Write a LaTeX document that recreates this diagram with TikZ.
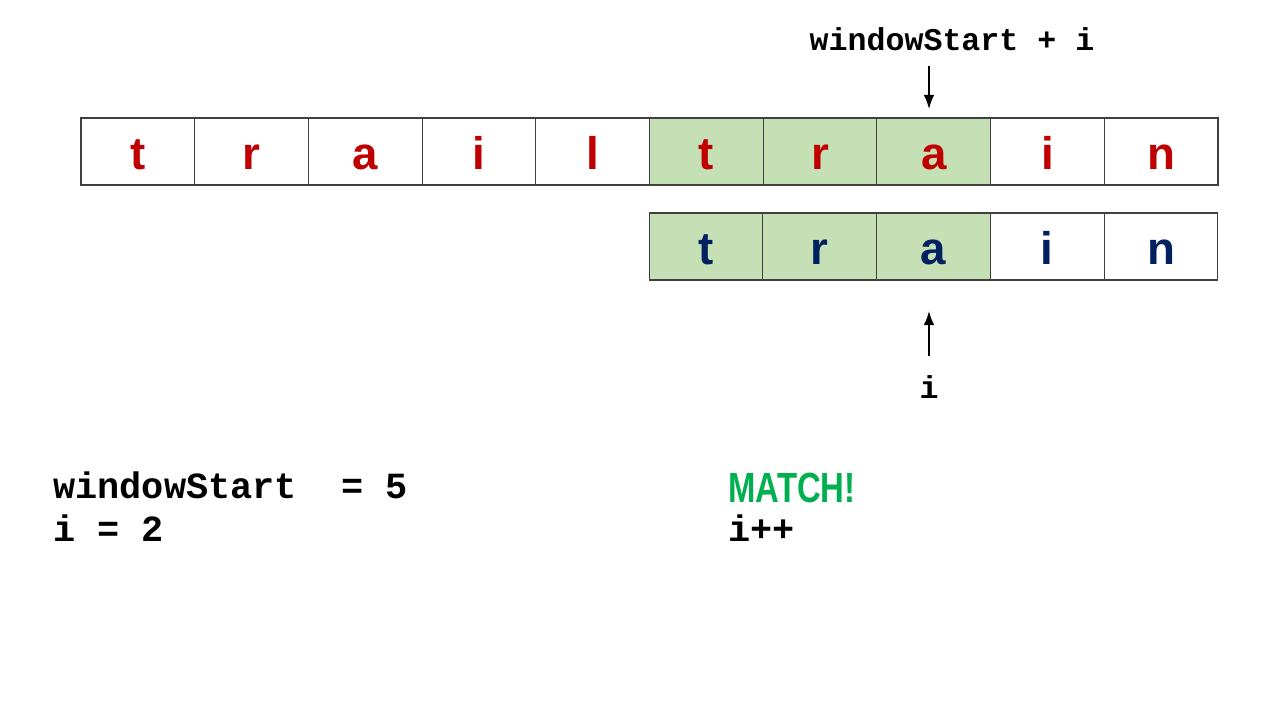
\documentclass[tikz,border=0pt]{standalone}
\usepackage{fontspec}
\setmonofont{Liberation Mono}
\newfontfamily\letterfont{Liberation Sans}
\usetikzlibrary{arrows.meta}

\definecolor{letterred}{HTML}{C00000}
\definecolor{letterblue}{HTML}{002060}
\definecolor{matchgreen}{HTML}{00B050}
\definecolor{windowfill}{HTML}{C5E0B4}

\tikzset{
    cellbox/.style={draw=black!75, line width=0.6pt, minimum width=2.274cm, minimum height=1.34cm,
        inner sep=0pt, text height=21pt, text depth=0pt, font=\letterfont\bfseries\fontsize{26}{26}\selectfont},
    codetext/.style={font=\ttfamily\bfseries\fontsize{21}{25}\selectfont, inner sep=0pt},
    pointer/.style={-{Latex[length=8pt,width=6pt]}, line width=0.9pt}
}

\begin{document}
\begin{tikzpicture}[x=0.02cm,y=-0.02cm]
    \useasboundingbox (0,0) rectangle (1280,720);

    % Text row
    \foreach \ch/\fl [count=\k] in {t/white,r/white,a/white,i/white,l/white,t/windowfill,r/windowfill,a/windowfill,i/white,n/white} {
        \node[cellbox, fill=\fl, text=letterred] (txt\k) at ({81+113.7*(\k-0.5)}, 151.5) {\ch};
    }

    % Pattern row
    \foreach \ch/\fl [count=\k] in {t/windowfill,r/windowfill,a/windowfill,i/white,n/white} {
        \node[cellbox, fill=\fl, text=letterblue] (pat\k) at ({649+113.8*(\k-0.5)}, 246.5) {\ch};
    }

    % Pointers
    \node[codetext, font=\ttfamily\bfseries\fontsize{18}{22}\selectfont, anchor=base] (wsi) at (952, 50) {windowStart + i};
    \coordinate (wsiTail) at (929, 66);
    \coordinate (wsiHead) at (929, 109);
    \draw[pointer] (wsiTail) -- (wsiHead);

    \node[codetext, font=\ttfamily\bfseries\fontsize{18}{22}\selectfont, anchor=base] (ilabel) at (929, 398) {i};
    \coordinate (iTail) at (929, 356);
    \coordinate (iHead) at (929, 311);
    \draw[pointer] (iTail) -- (iHead);

    % State
    \node[codetext, anchor=base west] (wsval) at (53, 498) {windowStart\ \ = 5};
    \node[codetext, anchor=base west] (ival) at (53, 541) {i = 2};
    \node[anchor=base west, inner sep=0pt, text=matchgreen, font=\letterfont\bfseries\fontsize{24}{28}\selectfont] (match) at (728, 502) {\scalebox{0.78}[1]{MATCH!}};
    \node[codetext, anchor=base west] (iinc) at (728, 541) {i++};
\end{tikzpicture}
\end{document}
